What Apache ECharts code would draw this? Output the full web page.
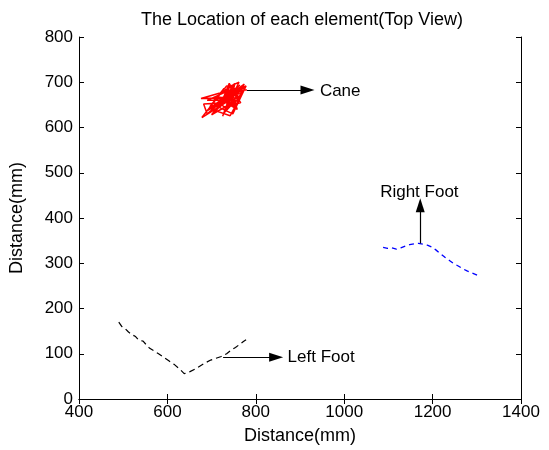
<!DOCTYPE html>
<html lang="en">
<head>
  <meta charset="UTF-8">
  <title>The Location of each element</title>
  <script src="https://cdn.jsdelivr.net/npm/echarts@6/dist/echarts.min.js"></script>
  <style>
    html, body { margin: 0; padding: 0; background: #fff; }
  </style>
</head>
<body>
  <div id="chart" style="width: 549px; height: 450px;"></div>
  <script>
    // Data (x, y in mm)
    const xTicks = [400, 600, 800, 1000, 1200, 1400];
    const yTicks = [0, 100, 200, 300, 400, 500, 600, 700, 800];

    const canePath = [
      [745, 670], [768, 690], [732, 655], [758, 640], [740, 698], [726, 664],
      [772, 682], [750, 650], [735, 688], [762, 700], [728, 632], [755, 660],
      [690, 660], [744, 684], [766, 655], [738, 646], [752, 694], [720, 676],
      [776, 688], [742, 626], [700, 640], [760, 684], [730, 680], [748, 656],
      [682, 652], [690, 630], [736, 668], [764, 694], [724, 658], [756, 672],
      [705, 662], [770, 676], [734, 692], [678, 622], [746, 664], [758, 690],
      [712, 640], [750, 676], [728, 686], [696, 646], [766, 668], [740, 674],
      [706, 632], [744, 652], [774, 696], [732, 666], [676, 664], [754, 686],
      [722, 650], [742, 694], [762, 664], [700, 628], [738, 676], [778, 692],
      [748, 630], [718, 644], [758, 688], [688, 636], [746, 666], [768, 684],
      [716, 656], [735, 640], [752, 698], [725, 625], [740, 664], [710, 668],
      [756, 645], [732, 674], [760, 683], [780, 683]
    ];

    const rightFootPath = [
      [1088, 335], [1098, 333], [1108, 334], [1118, 331], [1128, 334],
      [1138, 338], [1148, 341], [1158, 343], [1168, 344], [1178, 342],
      [1188, 340], [1198, 336], [1208, 329], [1218, 321], [1228, 313],
      [1238, 306], [1248, 299], [1258, 294], [1268, 288], [1278, 283],
      [1288, 279], [1298, 275], [1308, 270]
    ];

    const leftFootPath = [
      [490, 170], [497, 160], [505, 155], [512, 148], [520, 142],
      [528, 138], [535, 130], [545, 128], [552, 120], [560, 112],
      [570, 106], [580, 100], [592, 92], [604, 84], [616, 76],
      [628, 66], [638, 56], [650, 60], [662, 66], [674, 73],
      [686, 80], [698, 86], [710, 90], [722, 94], [734, 100],
      [744, 108], [754, 114], [764, 121], [772, 127], [778, 131]
    ];

    // annotation arrows: [from, to]
    const arrows = [
      [[780, 683], [917, 683]],
      [[1172, 344], [1172, 428]],
      [[726, 92], [846, 92]]
    ];
    const labels = [
      { name: 'Cane', value: [945, 680], align: 'left' },
      { name: 'Right Foot', value: [1170, 457], align: 'center' },
      { name: 'Left Foot', value: [872, 92], align: 'left' }
    ];

    const font = 'Liberation Sans, Arial, sans-serif';
    const chart = echarts.init(document.getElementById('chart'));

    const boxAxis = {
      axisLine: { show: true, lineStyle: { color: '#000', width: 1 } },
      axisTick: { show: true, inside: true, length: 5, lineStyle: { color: '#000' } },
      axisLabel: { show: false },
      splitLine: { show: false }
    };

    chart.setOption({
      animation: false,
      backgroundColor: '#fff',
      title: {
        text: 'The Location of each element(Top View)',
        left: 297, top: 6, textAlign: 'center',
        textStyle: { fontFamily: font, fontSize: 18, fontWeight: 'normal', color: '#000' }
      },
      grid: { left: 77, right: 28, top: 37, bottom: 50 },
      xAxis: [{
        type: 'value', min: xTicks[0], max: xTicks[xTicks.length - 1], interval: 200,
        name: 'Distance(mm)', nameLocation: 'middle', nameGap: 28,
        nameTextStyle: { fontFamily: font, fontSize: 18, color: '#000' },
        axisLine: { show: true, lineStyle: { color: '#000', width: 1 } },
        axisTick: { show: true, inside: true, length: 5, lineStyle: { color: '#000' } },
        axisLabel: { fontFamily: font, fontSize: 17, color: '#000', margin: 5, formatter: v => String(v) },
        splitLine: { show: false }
      }, Object.assign({}, boxAxis, { type: 'value', position: 'top', min: 400, max: 1400, interval: 200 })],
      yAxis: [{
        type: 'value', min: yTicks[0], max: yTicks[yTicks.length - 1], interval: 100,
        name: 'Distance(mm)', nameLocation: 'middle', nameGap: 53,
        nameTextStyle: { fontFamily: font, fontSize: 18, color: '#000' },
        axisLine: { show: true, lineStyle: { color: '#000', width: 1 } },
        axisTick: { show: true, inside: true, length: 5, lineStyle: { color: '#000' } },
        axisLabel: { fontFamily: font, fontSize: 17, color: '#000', margin: 6, formatter: v => String(v) },
        splitLine: { show: false }
      }, Object.assign({}, boxAxis, { type: 'value', position: 'right', min: 0, max: 800, interval: 100 })],
      series: [
        {
          type: 'line', data: canePath, showSymbol: false, symbol: 'none',
          lineStyle: { color: '#ff0000', width: 1.5 }
        },
        {
          type: 'line', data: rightFootPath, showSymbol: false, symbol: 'none',
          lineStyle: { color: '#0000ff', width: 1.3, type: [5, 4] }
        },
        {
          type: 'line', data: leftFootPath, showSymbol: false, symbol: 'none',
          lineStyle: { color: '#000', width: 1.2, type: [6, 4] },
          markLine: {
            silent: true, symbol: ['none', 'triangle'], symbolSize: [9, 14],
            label: { show: false },
            lineStyle: { color: '#000', width: 1.2, type: 'solid' },
            data: arrows.map(a => [{ coord: a[0] }, { coord: a[1] }])
          }
        },
        {
          type: 'scatter', symbolSize: 0,
          itemStyle: { opacity: 1 },
          data: labels.map(l => ({
            name: l.name, value: l.value,
            label: { align: l.align, color: '#000' }
          })),
          label: {
            show: true, position: 'inside', distance: 0,
            formatter: p => p.name,
            fontFamily: font, fontSize: 17, color: '#000',
            textBorderWidth: 0
          }
        }
      ]
    });
  </script>
</body>
</html>
